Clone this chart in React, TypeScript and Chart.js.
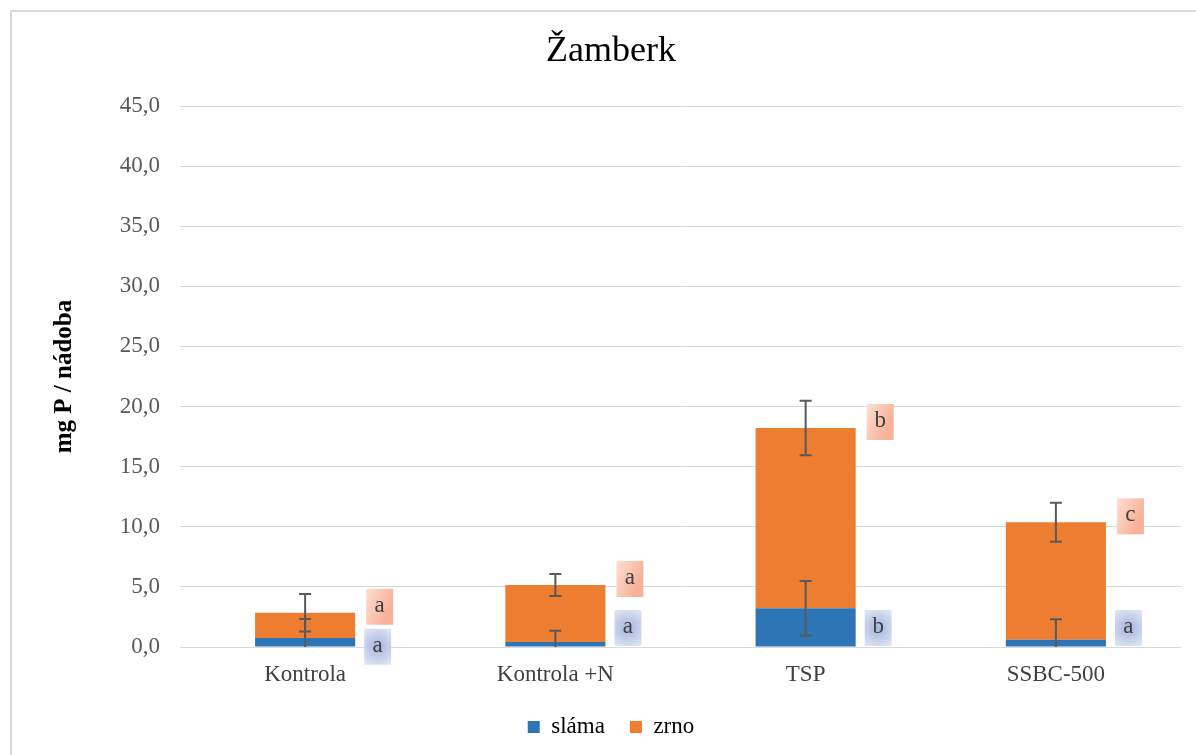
import React, { useEffect, useRef } from 'react';
import { Chart, registerables } from 'chart.js';

Chart.register(...registerables);

const categories = ['Kontrola', 'Kontrola +N', 'TSP', 'SSBC-500'];
const slama = [0.75, 0.42, 3.22, 0.61];
const zrno = [2.1, 4.74, 15.0, 9.76];
const slamaErr = [1.58, 0.94, 2.26, 1.69];
const zrnoErr = [1.56, 0.91, 2.26, 1.62];
const slamaLetters = ['a', 'a', 'b', 'a'];
const zrnoLetters = ['a', 'a', 'b', 'c'];
const yMin = 0;
const yMax = 45;
const yStep = 5;

const SERIF = '"Liberation Serif", "Times New Roman", serif';

const bgPlugin = {
  id: 'bgBorder',
  beforeDraw(chart: any) {
    const { ctx, width, height } = chart;
    ctx.save();
    ctx.fillStyle = '#ffffff';
    ctx.fillRect(0, 0, width, height);
    ctx.strokeStyle = '#D9D9D9';
    ctx.lineWidth = 2;
    ctx.beginPath();
    ctx.moveTo(11, height + 5);
    ctx.lineTo(11, 11);
    ctx.lineTo(width + 5, 11);
    ctx.stroke();
    ctx.restore();
  },
};

const errPlugin = {
  id: 'errorBars',
  afterDatasetsDraw(chart: any) {
    const { ctx, chartArea } = chart;
    const y = chart.scales.y;
    const meta0 = chart.getDatasetMeta(0);
    ctx.save();
    ctx.beginPath();
    ctx.rect(chartArea.left, chartArea.top - 20, chartArea.right - chartArea.left, chartArea.bottom - chartArea.top + 20);
    ctx.clip();
    ctx.strokeStyle = '#595959';
    ctx.lineWidth = 2;
    const cap = 6;
    const draw = (x: number, c: number, e: number) => {
      const top = c + e;
      const bot = c - e;
      const yt = y.getPixelForValue(top);
      const yb = y.getPixelForValue(Math.max(bot, y.min));
      ctx.beginPath();
      ctx.moveTo(x, yt);
      ctx.lineTo(x, yb);
      ctx.moveTo(x - cap, yt);
      ctx.lineTo(x + cap, yt);
      if (bot >= y.min) {
        ctx.moveTo(x - cap, yb);
        ctx.lineTo(x + cap, yb);
      }
      ctx.stroke();
    };
    categories.forEach((_, i) => {
      const x = meta0.data[i].x;
      draw(x, slama[i] + zrno[i], zrnoErr[i]);
      draw(x, slama[i], slamaErr[i]);
    });
    ctx.restore();
  },
};

function drawBox(ctx: CanvasRenderingContext2D, x: number, y: number, w: number, h: number, kind: string, text: string) {
  let g: CanvasGradient;
  if (kind === 'z') {
    g = ctx.createLinearGradient(x, y, x + w, y + h * 0.3);
    g.addColorStop(0, '#FDE0D4');
    g.addColorStop(1, '#F8B198');
  } else {
    g = ctx.createRadialGradient(x + w / 2, y + h / 2, 2, x + w / 2, y + h / 2, h * 0.62);
    g.addColorStop(0, '#A9BADF');
    g.addColorStop(1, '#E2E8F5');
  }
  ctx.fillStyle = g;
  ctx.fillRect(x, y, w, h);
  ctx.fillStyle = '#404040';
  ctx.font = `23px ${SERIF}`;
  ctx.textAlign = 'center';
  ctx.textBaseline = 'middle';
  ctx.fillText(text, x + w / 2, y + h / 2 - 1);
}

const letterPlugin = {
  id: 'letters',
  afterDatasetsDraw(chart: any) {
    const { ctx } = chart;
    const y = chart.scales.y;
    const meta = chart.getDatasetMeta(1);
    const bw = 27;
    const bh = 36;
    ctx.save();
    categories.forEach((_, i) => {
      const bar = meta.data[i];
      const right = bar.x + bar.width / 2;
      const zTop = y.getPixelForValue(slama[i] + zrno[i]) - 6 - bh / 2;
      let sTop = y.getPixelForValue(0) - 1 - bh;
      if (sTop < zTop + bh + 4) sTop = zTop + bh + 4;
      drawBox(ctx, right + 11, zTop, bw, bh, 'z', zrnoLetters[i]);
      drawBox(ctx, right + 9, sTop, bw, bh, 's', slamaLetters[i]);
    });
    ctx.restore();
  },
};

export default function App() {
  const ref = useRef<HTMLCanvasElement | null>(null);
  useEffect(() => {
    if (!ref.current) return;
    const chart = new Chart(ref.current, {
      type: 'bar',
      data: {
        labels: categories,
        datasets: [
          { label: 'sláma', data: slama, backgroundColor: '#2E75B6', borderWidth: 0 },
          { label: 'zrno', data: zrno, backgroundColor: '#ED7D31', borderWidth: 0 },
        ],
      },
      options: {
        responsive: false,
        animation: false,
        devicePixelRatio: 1,
        layout: { padding: { left: 41, right: 15, top: 11, bottom: 6.5 } },
        datasets: { bar: { categoryPercentage: 1, barPercentage: 0.4 } },
        plugins: {
          title: {
            display: true,
            text: 'Žamberk',
            color: '#000000',
            font: { family: SERIF, size: 36, weight: 'normal' },
            padding: { top: 19.4, bottom: 32.4 },
          },
          legend: {
            display: true,
            position: 'bottom',
            labels: {
              boxWidth: 12,
              boxHeight: 12,
              padding: 25,
              color: '#000000',
              font: { family: SERIF, size: 23 },
            },
          },
          tooltip: { enabled: false },
        },
        scales: {
          x: {
            stacked: true,
            grid: { display: false, drawTicks: false },
            border: { display: false },
            ticks: { color: '#404040', font: { family: SERIF, size: 23 }, padding: 14 },
            afterFit(scale: any) {
              scale.height = 43.5;
            },
          },
          y: {
            stacked: true,
            min: yMin,
            max: yMax,
            grid: { color: '#D9D9D9', lineWidth: 1, drawTicks: false },
            border: { display: false },
            ticks: {
              stepSize: yStep,
              padding: 20,
              color: '#595959',
              font: { family: SERIF, size: 23 },
              callback: (v: any) => Number(v).toFixed(1).replace('.', ','),
            },
            title: {
              display: true,
              text: 'mg P / nádoba',
              color: '#000000',
              font: { family: SERIF, size: 25, weight: 'bold' },
              padding: { top: 9, bottom: 0 },
            },
            afterFit(scale: any) {
              scale.width = 139;
            },
          },
        },
      },
      plugins: [bgPlugin, errPlugin, letterPlugin],
    });
    return () => chart.destroy();
  }, []);
  return (
    <div style={{ position: 'absolute', left: 0, top: 0, width: 1196, height: 755, overflow: 'hidden' }}>
      <canvas ref={ref} width={1196} height={755} style={{ display: 'block' }} />
    </div>
  );
}
